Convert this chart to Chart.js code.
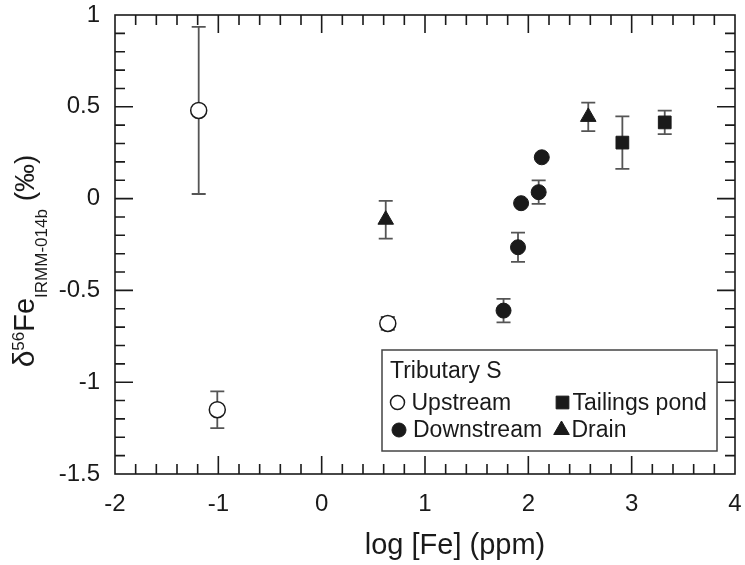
<!DOCTYPE html>
<html>
<head>
<meta charset="utf-8">
<script src="https://cdn.jsdelivr.net/npm/chart.js@4/dist/chart.umd.min.js"></script>
<style>
  body { margin: 0; background: #fff; }
  #wrap { width: 745px; height: 565px; }
</style>
</head>
<body>
<div id="wrap"><canvas id="myChart" width="745" height="565"></canvas></div>
<script>
// log [Fe] (ppm), d56Fe (permil) and error for each group
const upstreamX = [-1.19, -1.01, 0.64];
const upstreamY = [0.48, -1.15, -0.68];
const upstreamErr = [0.455, 0.10, 0.035];

const downstreamX = [1.76, 1.90, 1.93, 2.10, 2.13];
const downstreamY = [-0.61, -0.265, -0.025, 0.035, 0.225];
const downstreamErr = [0.064, 0.08, 0, 0.064, 0];

const pondX = [2.91, 3.32];
const pondY = [0.305, 0.415];
const pondErr = [0.143, 0.064];

const drainX = [0.62, 2.58];
const drainY = [-0.115, 0.445];
const drainErr = [0.103, 0.078];

const xTicks = [-2, -1, 0, 1, 2, 3, 4];
const xTickLabels = ["-2", "-1", "0", "1", "2", "3", "4"];
const yTicks = [-1.5, -1, -0.5, 0, 0.5, 1];
const yTickLabels = ["-1.5", "-1", "-0.5", "0", "0.5", "1"];

const FONT = "'Liberation Sans', Arial, Helvetica, sans-serif";
const INK = "#1a1a1a";

function pts(xs, ys, errs) {
  return xs.map((x, i) => ({ x: x, y: ys[i], err: errs[i] }));
}

function marker(ctx, style, x, y, r) {
  ctx.beginPath();
  if (style === "circle") {
    ctx.arc(x, y, r, 0, Math.PI * 2);
  } else if (style === "rect") {
    const s = r * Math.SQRT1_2;
    ctx.rect(x - s, y - s, 2 * s, 2 * s);
  } else if (style === "triangle") {
    ctx.moveTo(x, y - r);
    ctx.lineTo(x + r * 0.866, y + r * 0.5);
    ctx.lineTo(x - r * 0.866, y + r * 0.5);
    ctx.closePath();
  }
  ctx.fill();
  ctx.stroke();
}

// vertical error bars with caps, under the markers
const errorBars = {
  id: "errorBars",
  beforeDatasetsDraw(chart) {
    const { ctx, scales: { x, y } } = chart;
    ctx.save();
    ctx.strokeStyle = "#555";
    ctx.lineWidth = 1.8;
    chart.data.datasets.forEach(ds => ds.data.forEach(p => {
      if (!p.err) return;
      const px = x.getPixelForValue(p.x);
      const top = y.getPixelForValue(p.y + p.err);
      const bot = y.getPixelForValue(p.y - p.err);
      ctx.beginPath();
      ctx.moveTo(px, top); ctx.lineTo(px, bot);
      ctx.moveTo(px - 7, top); ctx.lineTo(px + 7, top);
      ctx.moveTo(px - 7, bot); ctx.lineTo(px + 7, bot);
      ctx.stroke();
    }));
    ctx.restore();
  }
};

// box round the plot with inward ticks on all four sides
const frame = {
  id: "frame",
  afterDraw(chart) {
    const { ctx, chartArea: a, scales: { x, y } } = chart;
    ctx.save();
    ctx.strokeStyle = INK;
    ctx.lineWidth = 1.6;
    ctx.strokeRect(a.left, a.top, a.right - a.left, a.bottom - a.top);
    ctx.beginPath();
    for (let i = 1; i < 30; i++) {
      const len = i % 5 === 0 ? 18 : 10;
      const px = x.getPixelForValue(-2 + i * 0.2);
      ctx.moveTo(px, a.bottom); ctx.lineTo(px, a.bottom - len);
      ctx.moveTo(px, a.top); ctx.lineTo(px, a.top + len);
    }
    for (let i = 1; i < 25; i++) {
      const len = i % 5 === 0 ? 18 : 10;
      const py = y.getPixelForValue(-1.5 + i * 0.1);
      ctx.moveTo(a.left, py); ctx.lineTo(a.left + len, py);
      ctx.moveTo(a.right, py); ctx.lineTo(a.right - len, py);
    }
    ctx.stroke();
    ctx.restore();
  }
};

// axis titles (the y title needs a superscript and a subscript)
const titles = {
  id: "titles",
  afterDraw(chart) {
    const ctx = chart.ctx;
    ctx.save();
    ctx.fillStyle = INK;
    ctx.textBaseline = "alphabetic";
    ctx.textAlign = "center";
    ctx.font = "29px " + FONT;
    ctx.fillText("log [Fe] (ppm)", 455, 554);

    const parts = [
      { t: "\u03b4", s: 30, dy: 0 },
      { t: "56", s: 17, dy: -10 },
      { t: "Fe", s: 29, dy: 0 },
      { t: "IRMM-014b", s: 17, dy: 13 },
      { t: " (\u2030)", s: 28, dy: 0 }
    ];
    ctx.textAlign = "left";
    let total = 0;
    parts.forEach(p => { ctx.font = p.s + "px " + FONT; p.w = ctx.measureText(p.t).width; total += p.w; });
    ctx.translate(0, 261);
    ctx.rotate(-Math.PI / 2);
    let u = -total / 2;
    parts.forEach(p => {
      ctx.font = p.s + "px " + FONT;
      ctx.fillText(p.t, u, 34 + p.dy);
      u += p.w;
    });
    ctx.restore();
  }
};

// boxed legend inside the plot, two columns
const legendSpots = [[397.5, 402.5], [399, 430], [562.5, 402.5], [561.5, 430]];
const legendBox = {
  id: "legendBox",
  afterDraw(chart) {
    const ctx = chart.ctx;
    ctx.save();
    ctx.fillStyle = "#fff";
    ctx.fillRect(382, 350, 335, 101);
    ctx.strokeStyle = "#444";
    ctx.lineWidth = 1.5;
    ctx.strokeRect(382, 350, 335, 101);
    ctx.font = "23px " + FONT;
    ctx.textBaseline = "alphabetic";
    ctx.fillStyle = INK;
    ctx.fillText("Tributary S", 390, 378);
    chart.data.datasets.forEach((ds, i) => {
      const [mx, my] = legendSpots[i];
      ctx.fillStyle = ds.backgroundColor;
      ctx.strokeStyle = ds.borderColor;
      ctx.lineWidth = ds.borderWidth;
      const r = ds.pointStyle === "circle" ? 7 : 9;
      marker(ctx, ds.pointStyle, mx, my, r);
      ctx.fillStyle = INK;
      ctx.fillText(ds.label, mx + (ds.pointStyle === "circle" ? 14 : 10), my + 7);
    });
    ctx.restore();
  }
};

new Chart(document.getElementById("myChart"), {
  type: "scatter",
  data: {
    datasets: [
      {
        label: "Upstream",
        data: pts(upstreamX, upstreamY, upstreamErr),
        pointStyle: "circle",
        pointRadius: 8,
        backgroundColor: "#fff",
        borderColor: INK,
        borderWidth: 1.5
      },
      {
        label: "Downstream",
        data: pts(downstreamX, downstreamY, downstreamErr),
        pointStyle: "circle",
        pointRadius: 7.5,
        backgroundColor: INK,
        borderColor: INK,
        borderWidth: 1
      },
      {
        label: "Tailings pond",
        data: pts(pondX, pondY, pondErr),
        pointStyle: "rect",
        pointRadius: 9,
        backgroundColor: INK,
        borderColor: INK,
        borderWidth: 1
      },
      {
        label: "Drain",
        data: pts(drainX, drainY, drainErr),
        pointStyle: "triangle",
        pointRadius: 9,
        backgroundColor: INK,
        borderColor: INK,
        borderWidth: 1
      }
    ]
  },
  options: {
    responsive: false,
    animation: false,
    layout: { padding: { top: 15, right: 7, left: 0, bottom: 0 } },
    plugins: { legend: { display: false }, tooltip: { enabled: false } },
    scales: {
      x: {
        type: "linear", position: "bottom", min: -2, max: 4,
        grid: { display: false, drawTicks: false },
        border: { display: false },
        afterBuildTicks: s => { s.ticks = xTicks.map(v => ({ value: v })); },
        afterFit: s => { s.height = 91; s.paddingLeft = 0; s.paddingRight = 0; },
        ticks: {
          padding: 16, color: INK, maxRotation: 0, autoSkip: false,
          font: { family: FONT, size: 24 },
          callback: (v, i) => xTickLabels[i]
        }
      },
      y: {
        type: "linear", position: "left", min: -1.5, max: 1,
        grid: { display: false, drawTicks: false },
        border: { display: false },
        afterBuildTicks: s => { s.ticks = yTicks.map(v => ({ value: v })); },
        afterFit: s => { s.width = 115; s.paddingTop = 0; s.paddingBottom = 0; },
        ticks: {
          padding: 15, color: INK, autoSkip: false,
          font: { family: FONT, size: 24 },
          callback: (v, i) => yTickLabels[i]
        }
      }
    }
  },
  plugins: [errorBars, frame, titles, legendBox]
});
</script>
</body>
</html>
